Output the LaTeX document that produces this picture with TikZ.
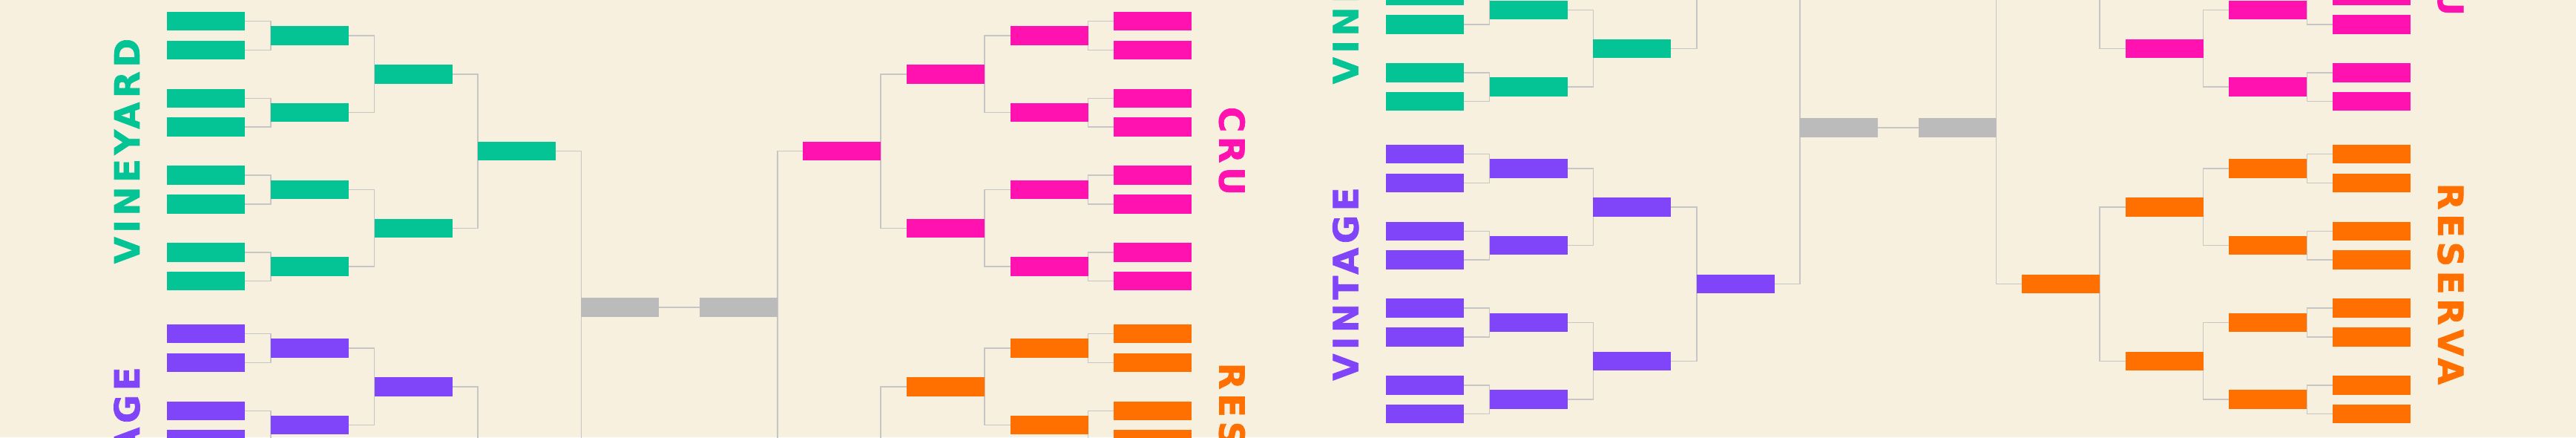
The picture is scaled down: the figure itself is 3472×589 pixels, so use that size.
\documentclass[tikz,border=0pt]{standalone}
\usepackage{fontspec}
\newfontfamily\tagfont{DejaVu Sans}[LetterSpace=12, FakeBold=1.5]
\definecolor{paper}{HTML}{F7F0DE}
\definecolor{wire}{HTML}{C6C6C6}
\definecolor{final}{HTML}{BBBBBB}
\definecolor{vine}{HTML}{04C496}
\definecolor{vint}{HTML}{8045F8}
\definecolor{cru}{HTML}{FF12B0}
\definecolor{res}{HTML}{FF7000}
\pgfdeclarelayer{paper}
\pgfdeclarelayer{wires}
\pgfsetlayers{paper,wires,main}

% one full bracket: #1 name, #2 axis x, #3 centre y
\newcommand{\bracket}[3]{%
\begin{scope}[shift={(#2,#3)}]
\node[box=final] (#1-l0) at (-79.8,0) {};
\node[box=final] (#1-r0) at (79.8,0) {};
\begin{pgfonlayer}{wires}\draw[link] (#1-l0) -- (#1-r0);\end{pgfonlayer}
\foreach \side/\sd/\cn/\pn/\rot/\half/\hs/\col/\word in
  {l/-1/east/west/90/u/-1/vine/VINEYARD, l/-1/east/west/90/d/1/vint/VINTAGE,
   r/1/west/east/-90/u/-1/cru/CRU, r/1/west/east/-90/d/1/res/RESERVA}{
  \pgfmathsetmacro\yq{\hs*210.5}
  \node[tag=\col, rotate=\rot] (#1-\side\half-tag) at ({\sd*744.7},\yq) {\word};
  \node[box=\col] (#1-\side\half) at ({\sd*219},\yq) {};
  \begin{pgfonlayer}{wires}\draw[link] (#1-\side\half.\cn) -| (#1-\side0.\pn);\end{pgfonlayer}
  \foreach \i/\a in {1/-1,2/1}{
    \pgfmathsetmacro\ythree{\yq+\a*103.75}
    \node[box=\col] (#1-\side\half\i) at ({\sd*358.6},\ythree) {};
    \begin{pgfonlayer}{wires}\draw[link] (#1-\side\half\i.\cn) -| (#1-\side\half.\pn);\end{pgfonlayer}
    \foreach \j/\b in {1/-1,2/1}{
      \pgfmathsetmacro\ytwo{\ythree+\b*51.8}
      \node[box=\col] (#1-\side\half\i\j) at ({\sd*498.4},\ytwo) {};
      \begin{pgfonlayer}{wires}\draw[link] (#1-\side\half\i\j.\cn) -| (#1-\side\half\i.\pn);\end{pgfonlayer}
      \foreach \k/\c in {1/-1,2/1}{
        \node[box=\col] (#1-\side\half\i\j\k) at ({\sd*638.2},{\ytwo+\c*19.3}) {};
        \begin{pgfonlayer}{wires}\draw[link] (#1-\side\half\i\j\k.\cn) -| (#1-\side\half\i\j.\pn);\end{pgfonlayer}
      }
    }
  }
}
\end{scope}}

\begin{document}
\begin{tikzpicture}[x=1pt, y=-1pt,
  box/.style={fill=#1, minimum width=105pt, minimum height=25.5pt, inner sep=0pt, outer sep=0pt},
  link/.style={draw=wire, line width=1.5pt},
  tag/.style={text=#1, inner sep=0pt, font=\tagfont\bfseries\fontsize{46.6}{50}\selectfont}]
\begin{pgfonlayer}{paper}
\fill[paper] (0,0) rectangle (3472,589);
\end{pgfonlayer}
\useasboundingbox (0,0) rectangle (3472,589);

\bracket{a}{915.7}{414}
\bracket{b}{2558.4}{172}
\end{tikzpicture}
\end{document}
